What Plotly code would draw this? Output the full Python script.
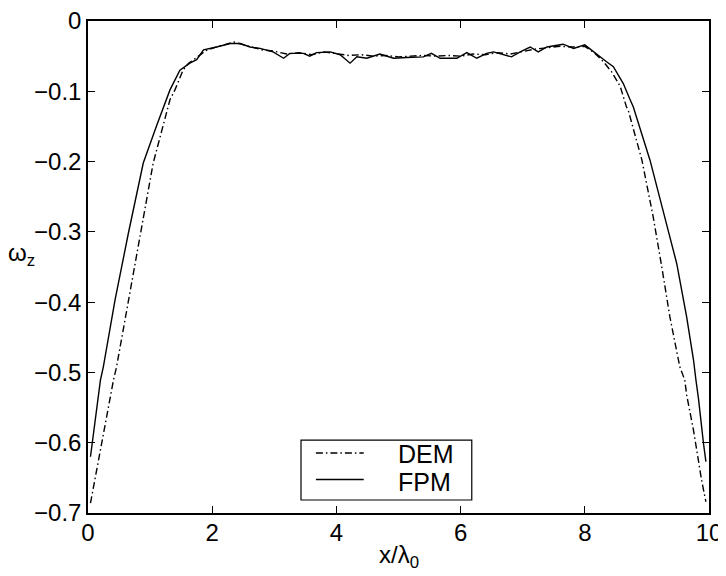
import plotly.graph_objects as go

fpm_x = [0.04, 0.15, 0.2, 0.247, 0.435, 0.65, 0.89, 1.1, 1.27, 1.32, 1.48, 1.64, 1.75, 1.86,
         2.07, 2.29, 2.45, 2.61, 2.77, 2.98, 3.15, 3.25, 3.47, 3.57, 3.68, 3.9, 4.06, 4.22,
         4.33, 4.49, 4.70, 4.92, 5.13, 5.40, 5.53, 5.67, 5.94, 6.1, 6.26, 6.42, 6.53, 6.69,
         6.82, 6.96, 7.12, 7.25, 7.39, 7.65, 7.82, 8.0, 8.14, 8.35, 8.46, 8.62, 8.73, 8.78,
         9.05, 9.16, 9.35, 9.48, 9.64, 9.75, 9.79, 9.83, 9.91, 9.95]
fpm_y = [-0.62, -0.539, -0.511, -0.492, -0.397, -0.302, -0.202, -0.15, -0.112, -0.098, -0.070,
         -0.060, -0.055, -0.041, -0.037, -0.032, -0.032, -0.037, -0.039, -0.044, -0.053, -0.046,
         -0.046, -0.050, -0.045, -0.044, -0.048, -0.060, -0.051, -0.053, -0.047, -0.053, -0.052,
         -0.051, -0.046, -0.053, -0.053, -0.045, -0.053, -0.046, -0.044, -0.048, -0.051, -0.044,
         -0.037, -0.044, -0.037, -0.033, -0.039, -0.034, -0.044, -0.058, -0.065, -0.089, -0.112,
         -0.122, -0.198, -0.236, -0.302, -0.345, -0.421, -0.482, -0.511, -0.537, -0.60, -0.627]

dem_x = [0.04, 0.22, 0.354, 0.41, 0.46, 0.65, 0.84, 1.05, 1.32, 1.40, 1.53, 1.62, 1.75, 1.9,
         2.1, 2.35, 2.55, 2.8, 3.0, 3.2, 3.4, 3.6, 3.8, 4.0, 4.2, 4.4, 4.6, 4.8, 5.0, 5.2,
         5.4, 5.6, 5.8, 6.0, 6.2, 6.4, 6.6, 6.8, 7.0, 7.2, 7.4, 7.6, 7.8, 8.0, 8.15, 8.3,
         8.43, 8.57, 8.67, 8.7, 8.92, 9.1, 9.24, 9.37, 9.53, 9.61, 9.64, 9.75, 9.88, 9.95]
dem_y = [-0.686, -0.60, -0.539, -0.511, -0.492, -0.397, -0.302, -0.202, -0.112, -0.098, -0.07,
         -0.06, -0.052, -0.042, -0.036, -0.030, -0.035, -0.041, -0.043, -0.047, -0.045, -0.048,
         -0.044, -0.047, -0.049, -0.048, -0.050, -0.049, -0.051, -0.050, -0.049, -0.050, -0.049,
         -0.050, -0.047, -0.048, -0.045, -0.047, -0.043, -0.040, -0.038, -0.036, -0.037, -0.036,
         -0.045, -0.058, -0.072, -0.093, -0.122, -0.127, -0.198, -0.278, -0.35, -0.421, -0.492,
         -0.511, -0.532, -0.582, -0.653, -0.684]

x_ticks = [0, 2, 4, 6, 8, 10]
y_ticks = [0, -0.1, -0.2, -0.3, -0.4, -0.5, -0.6, -0.7]
series_names = ["DEM", "FPM"]

FONT = "Liberation Sans, Arial, Helvetica, sans-serif"
FS = 24
DASHDOT = "7px,3px,1.5px,3px"

fig = go.Figure()
fig.add_trace(go.Scatter(x=dem_x, y=dem_y, mode="lines", name=series_names[0],
                         line=dict(color="black", width=1.4, dash=DASHDOT)))
fig.add_trace(go.Scatter(x=fpm_x, y=fpm_y, mode="lines", name=series_names[1],
                         line=dict(color="black", width=1.4)))

axis_common = dict(showline=True, linecolor="black", linewidth=1.5, mirror="ticks",
                   ticks="inside", ticklen=7, tickwidth=1, tickcolor="black", showgrid=False,
                   zeroline=False, automargin=False, ticklabeloverflow="allow",
                   tickfont=dict(family=FONT, size=FS, color="black"))

fig.update_xaxes(range=[0, 10], tickvals=x_ticks, ticklabelstandoff=-3, **axis_common)
fig.update_yaxes(range=[-0.7, 0], tickvals=y_ticks,
                 ticktext=[("\u2212" + f"{abs(v):.1f}") if v != 0 else "0" for v in y_ticks],
                 ticklabelstandoff=0, **axis_common)

# manual legend (box, line samples, labels) in paper coordinates
shapes = [
    dict(type="rect", xref="paper", yref="paper", x0=0.343, x1=0.618, y0=0.0264, y1=0.148,
         line=dict(color="black", width=1.2), fillcolor="white", layer="above"),
    dict(type="line", xref="paper", yref="paper", x0=0.367, x1=0.444, y0=0.122, y1=0.122,
         line=dict(color="black", width=1.4, dash=DASHDOT), layer="above"),
    dict(type="line", xref="paper", yref="paper", x0=0.367, x1=0.444, y0=0.068, y1=0.068,
         line=dict(color="black", width=1.4), layer="above"),
]

annotations = [
    dict(text=series_names[0], x=0.496, xref="paper", xanchor="left", y=0.120, yref="paper",
         yanchor="middle", showarrow=False, height=24, font=dict(family=FONT, size=25)),
    dict(text=series_names[1], x=0.496, xref="paper", xanchor="left", y=0.064, yref="paper",
         yanchor="middle", showarrow=False, height=24, font=dict(family=FONT, size=25)),
    dict(text="\u03c9<sub>z</sub>", x=0.0, xref="paper", xanchor="center",
         y=0.526, yref="paper", yanchor="middle", showarrow=False,
         xshift=-67, font=dict(family=FONT, size=FS)),
    dict(text="x/\u03bb<sub>0</sub>", x=0.5, xref="paper", xanchor="center",
         y=0, yref="paper", yanchor="top", showarrow=False,
         yshift=-26, font=dict(family=FONT, size=FS)),
]

fig.update_layout(
    width=726, height=576,
    margin=dict(l=80, r=25, t=13, b=71, autoexpand=False),
    paper_bgcolor="white", plot_bgcolor="white",
    font=dict(family=FONT, size=FS, color="black"),
    showlegend=False,
    shapes=shapes,
    annotations=annotations,
)

fig.write_html("out.html")
